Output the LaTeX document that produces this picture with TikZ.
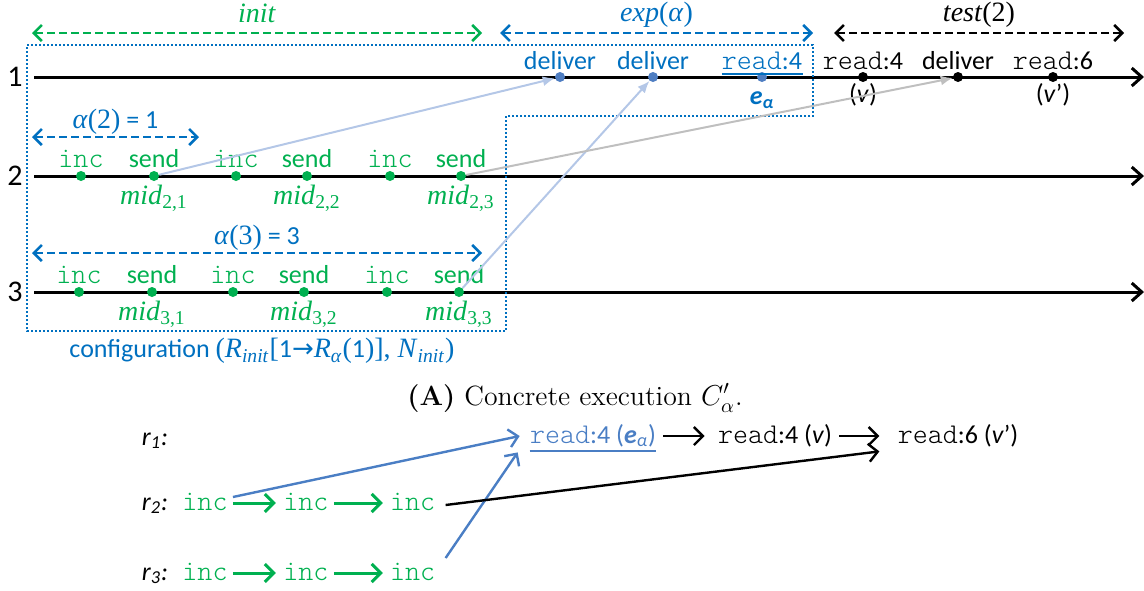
\documentclass[tikz,border=0pt]{standalone}
\usepackage{fontspec}
\usetikzlibrary{arrows.meta, positioning, calc}
\newfontfamily\calfont{Carlito}
\newfontfamily\timesfont{Liberation Serif}
\newfontfamily\arrowfont{DejaVu Sans}
\newfontfamily\monofont{Latin Modern Mono Light}
\definecolor{cgreen}{HTML}{00B050}
\definecolor{cblue}{HTML}{0070C0}
\definecolor{cdot}{HTML}{4F7EC2}
\definecolor{cmsg}{HTML}{B4C7E7}
\definecolor{cgray}{HTML}{BFBFBF}
\definecolor{csteel}{HTML}{4A7EC4}
\newcommand\code[1]{{\monofont\fontsize{14.3}{16}\selectfont #1}}
\newcommand\itx[1]{{\timesfont\fontsize{14}{16}\selectfont #1}}
\newcommand\midlab[2]{\itx{\textit{mid}\textsubscript{#1,#2}}}

\begin{document}
\begin{tikzpicture}[x=0.5pt, y=-0.5pt, inner sep=0pt,
  every node/.style={font=\calfont\fontsize{13}{15}\selectfont},
  proc/.style={line width=1.5pt, -{Straight Barb[length=5pt,width=9pt]}},
  span/.style={line width=1.3pt, dash pattern=on 4pt off 2pt,
    {Straight Barb[length=4pt,width=8pt]}-{Straight Barb[length=4pt,width=8pt]}},
  ev/.style={circle, minimum size=5pt, fill=#1},
  evup/.style={text depth=0pt},
  msg/.style={line width=1pt, draw=#1, -{Latex[length=6pt,width=5pt,fill=#1]}},
  cfgbox/.style={draw=cblue, line width=1pt, dash pattern=on 1pt off 1pt},
  bot/.style={text height=10pt, text depth=3pt},
  garr/.style={draw=cgreen, line width=1.5pt, -{Straight Barb[length=4.5pt,width=9pt]},
    shorten <=2.5pt, shorten >=3.5pt},
  barr/.style={draw=#1, line width=1.2pt, -{Straight Barb[length=4.5pt,width=9pt]}}]
  \useasboundingbox (0,0) rectangle (1144,590);

  % processes
  \foreach \p/\y in {1/77, 2/176, 3/292} {
    \node[font=\calfont\fontsize{15}{17}\selectfont] (p\p) at (15,\y) {\p};
    \coordinate (p\p e) at (1144,\y);
    \draw[proc] ([xshift=5.5pt]p\p.east) -- (p\p e);
  }

  % configuration box
  \draw[cfgbox] (27,45) -- (813,45) -- (813,116) -- (506,116) -- (506,331) -- (27,331) -- cycle;
  \node[cblue] (cfg) at (262,351) {configuration {\timesfont\fontsize{14}{16}\selectfont(\textit{R}\textsubscript{\textit{init}}[}1{\arrowfont →}{\timesfont\fontsize{14}{16}\selectfont\textit{R}\textsubscript{\textit{α}}(}1{\timesfont\fontsize{14}{16}\selectfont)], \textit{N}\textsubscript{\textit{init}})}};

  % intervals
  \coordinate (in0) at (32,33);  \coordinate (in1) at (482,33);
  \coordinate (ex0) at (500,33); \coordinate (ex1) at (813,33);
  \coordinate (te0) at (834,33); \coordinate (te1) at (1124,33);
  \coordinate (al0) at (32,137); \coordinate (al1) at (199,137);
  \coordinate (am0) at (32,253); \coordinate (am1) at (482,253);
  \draw[span, cgreen] (in0) -- node[above=4.5pt, text depth=0pt, cgreen] {\itx{\textit{init}}} (in1);
  \draw[span, cblue] (ex0) -- node[above=2pt, cblue] {\itx{\textit{exp}(\textit{α})}} (ex1);
  \draw[span, black] (te0) -- node[above=2pt] {\itx{\textit{test}(2)}} (te1);
  \draw[span, cblue] (al0) -- node[above=0.5pt, cblue] {\itx{\textit{α}(2)} = 1} (al1);
  \draw[span, cblue] (am0) -- node[above=0.5pt, cblue] {\itx{\textit{α}(3)} = 3} (am1);

  % process 1
  \node[ev=cdot] (d1) at (560,77) {};
  \node[ev=cdot] (d2) at (653,77) {};
  \node[ev=cdot] (ea) at (762,77) {};
  \node[ev=black] (v1) at (863,77) {};
  \node[ev=black] (d3) at (958,77) {};
  \node[ev=black] (v2) at (1053,77) {};
  \node[evup, cblue, above=1pt of d1] {deliver};
  \node[evup, cblue, above=1pt of d2] {deliver};
  \node[evup, cblue, above=1pt of ea] (rd) {\code{read}:4};
  \draw[cblue, line width=1pt] ([yshift=-2pt]rd.south west) -- ([yshift=-2pt]rd.south east);
  \node[cblue, below=4.5pt of ea] {\bfseries\itshape e\textsubscript{α}};
  \node[evup, above=1pt of v1] {\code{read}:4};
  \node[evup, above=1pt of d3] {deliver};
  \node[evup, above=1pt of v2] {\code{read}:6};
  \node[below=0.5pt of v1] {(\textit{v})};
  \node[below=0.5pt of v2] {(\textit{v}’)};

  % processes 2 and 3
  \foreach \p/\y/\xs in {2/176/{1/81/154,2/236/307,3/390/461}, 3/292/{1/79/152,2/233/304,3/387/459}} {
    \foreach \k/\xa/\xb in \xs {
      \node[ev=cgreen] (i\p\k) at (\xa,\y) {};
      \node[ev=cgreen] (s\p\k) at (\xb,\y) {};
      \node[evup, cgreen, above=1.5pt of i\p\k] {\code{inc}};
      \node[evup, cgreen, above=1.5pt of s\p\k] {send};
      \node[cgreen, below=1.5pt of s\p\k] {\midlab{\p}{\k}};
    }
  }

  % messages
  \draw[msg=cmsg] (s21) -- (d1);
  \draw[msg=cmsg] (s33) -- (d2);
  \draw[msg=cgray] (s23) -- (d3);

  % caption
  \node[font=\rmfamily\fontsize{13.9}{16}\selectfont] (cap) at (575,398) {\textbf{(A)} Concrete execution $C'_\alpha$.};

  % runs
  \node[bot] (r1) at (155,438) {\itshape r\textsubscript{1}:};
  \node[bot] (r2) at (155,503) {\itshape r\textsubscript{2}:};
  \node[bot] (r3) at (155,573) {\itshape r\textsubscript{3}:};
  \node[bot, cgreen] (a1) at (205,503) {\code{inc}};
  \node[bot, cgreen, right=27.5pt of a1] (a2) {\code{inc}};
  \node[bot, cgreen, right=30.5pt of a2] (a3) {\code{inc}};
  \node[bot, cgreen] (b1) at (205,573) {\code{inc}};
  \node[bot, cgreen, right=27.5pt of b1] (b2) {\code{inc}};
  \node[bot, cgreen, right=30.5pt of b2] (b3) {\code{inc}};
  \node[bot, csteel] (ra) at (593,436) {\code{read}:4 (\textbf{\textit{e}}\textsubscript{\textit{α}})};
  \node[bot] (rv) at (775,436) {\code{read}:4 (\textit{v})};
  \node[bot] (rw) at (958,436) {\code{read}:6 (\textit{v}’)};
  \draw[csteel, line width=1pt] ([yshift=-1pt]ra.south west) -- ([yshift=-1pt]ra.south east);
  \draw[garr] (a1) -- (a2);
  \draw[garr] (a2) -- (a3);
  \draw[garr] (b1) -- (b2);
  \draw[garr] (b2) -- (b3);
  \draw[barr=black, shorten <=3.5pt, shorten >=6.5pt] (ra) -- (rv);
  \draw[barr=black, shorten <=3.5pt, shorten >=9pt] (rv) -- (rw);
  \draw[barr=csteel] ([shift={(5,-6)}]a1.east) -- ([shift={(-10,0)}]ra.west);
  \draw[barr=csteel] ([shift={(10,-15)}]b3.east) -- ([shift={(-12,3)}]ra.south west);
  \draw[barr=black] ([shift={(10,2)}]a3.east) -- ([shift={(-18,2)}]rw.south west);
\end{tikzpicture}
\end{document}
